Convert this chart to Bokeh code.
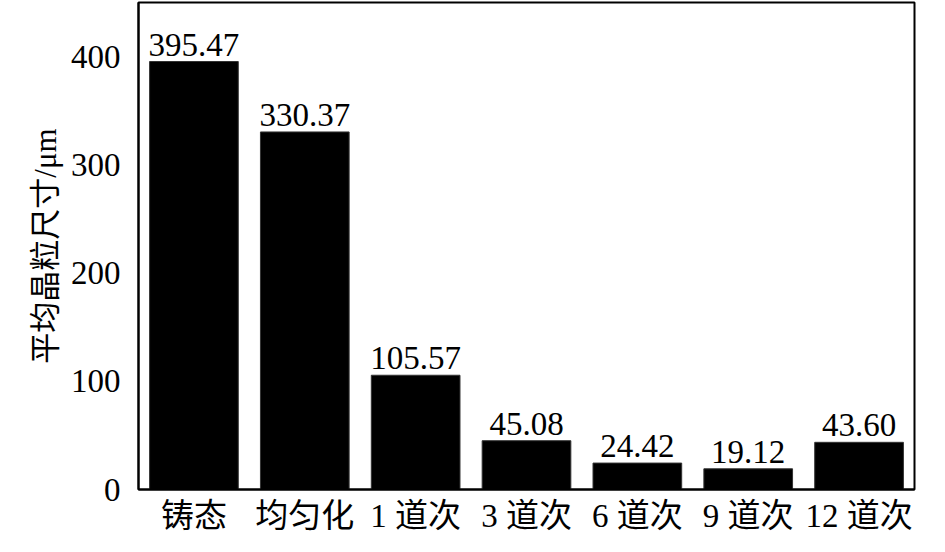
from bokeh.plotting import figure
from bokeh.models import ColumnDataSource, LabelSet, FactorRange, Range1d
from bokeh.embed import file_html
from bokeh.resources import INLINE

categories = ["铸态", "均匀化", "1 道次", "3 道次", "6 道次", "9 道次", "12 道次"]
grain_size = [395.47, 330.37, 105.57, 45.08, 24.42, 19.12, 43.60]
value_labels = ["395.47", "330.37", "105.57", "45.08", "24.42", "19.12", "43.60"]
y_ticks = [0, 100, 200, 300, 400]

FONT = "'Liberation Serif', 'Noto Sans CJK SC'"

src = ColumnDataSource(dict(cat=categories, val=grain_size, lab=value_labels))

p = figure(width=929, height=536, output_backend="svg", toolbar_location=None,
           x_range=FactorRange(factors=categories), y_range=Range1d(0, 450),
           min_border_left=138, min_border_right=15, min_border_top=2, min_border_bottom=43)

p.vbar(x="cat", top="val", width=0.8, source=src, fill_color="black", line_color="#333333", line_width=1)

labels = LabelSet(x="cat", y="val", text="lab", source=src, text_align="center",
                  text_baseline="alphabetic", y_offset=6, text_font_size="33px",
                  text_font=FONT, text_color="black")
p.add_layout(labels)

p.xgrid.visible = False
p.ygrid.visible = False
p.background_fill_color = "white"
p.border_fill_color = "white"
p.outline_line_color = "black"
p.outline_line_width = 2

p.yaxis.ticker = y_ticks
p.yaxis.axis_label = "平均晶粒尺寸/μm"
p.yaxis.axis_label_text_font = FONT
p.yaxis.axis_label_text_font_size = "31px"
p.yaxis.axis_label_text_font_style = "normal"
p.yaxis.axis_label_text_color = "black"
p.yaxis.axis_label_standoff = 5

for ax in (p.xaxis, p.yaxis):
    ax.major_label_text_font = FONT
    ax.major_label_text_font_size = "33px"
    ax.major_label_text_color = "black"
    ax.major_tick_line_color = None
    ax.minor_tick_line_color = None
    ax.major_tick_out = 0
    ax.major_tick_in = 0
    ax.axis_line_color = "black"
    ax.axis_line_width = 2

p.yaxis.major_label_standoff = 18
p.xaxis.major_label_standoff = 8

open("out.html", "w").write(file_html(p, INLINE))
